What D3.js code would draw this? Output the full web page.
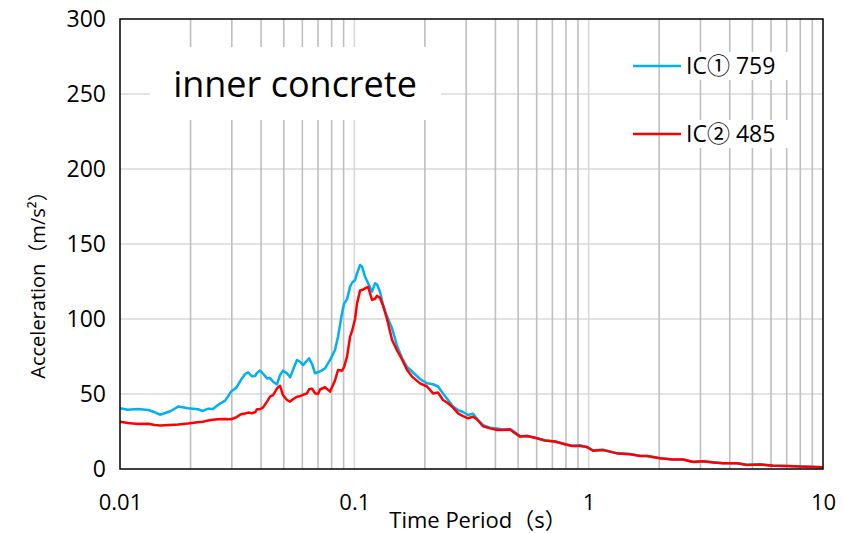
<!DOCTYPE html>
<html><head><meta charset="utf-8">
<script src="https://cdn.jsdelivr.net/npm/d3@7"></script>
<style>
body{margin:0;background:#fff}
svg{display:block}
text{font-family:"Open Sans","Noto Sans CJK SC",sans-serif;fill:#000}
</style>
</head><body>
<svg id="chart" width="844" height="533"></svg>
<script>
// ---- data ----
const periods = [0.01,0.0108,0.0119,0.0132,0.0141,0.0148,0.0164,0.0177,0.0195,0.0215,0.0226,0.0238,0.0249,0.0262,0.0281,0.0298,0.0313,0.0328,0.0342,0.0352,0.0366,0.0377,0.0384,0.0396,0.0408,0.0424,0.0437,0.0450,0.0468,0.0482,0.0496,0.0516,0.0532,0.0547,0.0569,0.0586,0.0604,0.0628,0.0641,0.0660,0.0680,0.0700,0.0714,0.0750,0.0788,0.0827,0.0852,0.0886,0.0904,0.0931,0.0959,0.0978,0.1007,0.1027,0.1058,0.1079,0.1111,0.1144,0.1190,0.1226,0.1250,0.1287,0.1326,0.1379,0.1449,0.1522,0.1598,0.1679,0.1763,0.1907,0.2043,0.2167,0.2276,0.2391,0.2512,0.2638,0.2771,0.2911,0.3057,0.3211,0.3340,0.3543,0.3794,0.4065,0.4312,0.4618,0.4851,0.5095,0.5458,0.5905,0.6515,0.7188,0.7931,0.8495,0.9189,0.9844,1.044,1.152,1.322,1.502,1.657,1.775,2.017,2.292,2.529,2.790,3.078,3.396,3.747,4.300,4.744,5.389,6.123,7.027,7.983,9.071,10.0];
const ic1 = [40.5,39.5,40.0,39.3,37.8,36.2,38.5,41.6,40.5,39.8,38.7,40.2,40.0,42.7,45.6,51.6,54.0,59.3,63.3,64.5,61.8,62.0,64.0,65.6,63.5,60.4,60.6,58.2,56.4,62.7,65.6,63.8,61.1,66.0,72.7,71.5,69.3,72.2,73.8,70.0,63.8,64.5,65.0,67.1,72.7,79.3,88.2,103.8,110.4,113.1,121.6,124.2,126.0,130.4,136.0,134.9,128.2,124.0,118.2,123.8,123.0,118.2,109.3,101.6,93.8,82.0,74.0,68.0,65.0,60.0,57.1,56.5,55.0,50.4,46.0,41.6,39.3,38.0,36.0,36.8,33.5,29.3,27.5,27.0,26.4,26.6,24.5,21.8,22.0,20.8,19.0,18.3,16.5,15.5,15.8,14.6,12.5,12.8,10.6,10.0,8.9,8.7,7.2,6.4,6.3,4.8,5.2,4.5,3.9,3.8,2.8,3.1,2.3,2.0,1.7,1.5,1.2];
const ic2 = [31.5,30.6,30.0,30.1,29.3,29.0,29.3,29.6,30.3,31.2,31.5,32.4,32.8,33.2,33.4,33.2,34.4,36.5,37.0,37.6,37.2,37.8,39.8,39.8,41.1,44.9,48.2,49.3,53.8,55.5,49.3,46.0,44.9,46.5,48.2,48.5,49.5,50.4,53.1,53.5,50.5,50.0,53.0,54.5,51.6,59.0,66.0,65.5,68.0,74.9,88.2,92.0,100.0,110.4,119.0,119.3,120.4,121.5,112.7,113.5,115.5,114.0,109.0,100.0,86.0,79.0,73.0,66.0,61.6,57.1,55.0,50.4,51.0,46.0,43.8,40.9,37.1,35.3,33.8,34.8,33.0,28.5,27.1,26.0,26.0,26.3,23.8,21.6,22.0,20.8,19.0,18.3,16.5,15.3,15.3,14.6,12.2,12.6,10.4,9.8,8.7,8.7,7.1,6.3,6.3,4.7,5.1,4.4,3.8,3.8,2.7,3.0,2.2,2.0,1.6,1.4,1.1];
const seriesNames = ["IC\u2460 759", "IC\u2461 485"];
const seriesColors = ["#00B0F0", "#FF0000"];
const yTicks = [0, 50, 100, 150, 200, 250, 300];
const xTickLabels = [0.01, 0.1, 1, 10];
const titleText = "inner concrete";
const xTitle = "Time Period\uFF08s\uFF09";
const yTitle = "Acceleration\uFF08m/s\u00B2\uFF09";

// ---- layout ----
const W = 844, H = 533;
const m = {left: 120, right: 21, top: 19, bottom: 64};
const iw = W - m.left - m.right, ih = H - m.top - m.bottom;

const svg = d3.select("#chart");
const g = svg.append("g").attr("transform", `translate(${m.left},${m.top})`);

const x = d3.scaleLog().domain([0.01, 10]).range([0, iw]);
const y = d3.scaleLinear().domain([0, 300]).range([ih, 0]);

// horizontal grid
g.append("g").selectAll("line").data(yTicks.filter(d => d > 0 && d < 300)).join("line")
  .attr("x1", 0).attr("x2", iw).attr("y1", d => y(d)).attr("y2", d => y(d))
  .attr("stroke", "#d9d9d9").attr("stroke-width", 1.5);

// vertical grid (log)
const isMajor = d => Math.abs(Math.log10(d) - Math.round(Math.log10(d))) < 1e-9;
g.append("g").selectAll("line").data(x.ticks().filter(d => d > 0.01 && d < 10)).join("line")
  .attr("x1", d => x(d)).attr("x2", d => x(d)).attr("y1", 0).attr("y2", ih)
  .attr("stroke", d => isMajor(d) ? "#d9d9d9" : "#bfbfbf").attr("stroke-width", 1.6);

// title box (white background covering grid)
g.append("rect").attr("x", 150 - m.left).attr("y", 47 - m.top).attr("width", 291).attr("height", 73).attr("fill", "#fff");
g.append("text").attr("x", 295 - m.left).attr("y", 97 - m.top).attr("text-anchor", "middle")
  .style("font-size", "36px").text(titleText);

// series lines
const data = [ic1, ic2];
const line = d3.line().x(d => x(d[0])).y(d => y(d[1]));
data.forEach((vals, i) => {
  g.append("path").datum(periods.map((p, k) => [p, vals[k]]))
    .attr("fill", "none").attr("stroke", seriesColors[i]).attr("stroke-width", 2.5)
    .attr("stroke-linejoin", "round").attr("d", line);
});

// frame
g.append("rect").attr("x", 0).attr("y", 0).attr("width", iw).attr("height", ih)
  .attr("fill", "none").attr("stroke", "#000").attr("stroke-width", 1.5);

// legend
const leg = svg.append("g");
seriesNames.forEach((name, i) => {
  const cy = 66 + i * 68;
  leg.append("rect").attr("x", 684).attr("y", cy - 14).attr("width", 110).attr("height", 28).attr("fill", "#fff");
  leg.append("line").attr("x1", 633).attr("x2", 681).attr("y1", cy).attr("y2", cy)
    .attr("stroke", seriesColors[i]).attr("stroke-width", 2.5);
  leg.append("text").attr("x", 686).attr("y", cy).attr("dy", "0.35em")
    .style("font-size", "23px").text(name);
});

// axes labels
const yAxis = d3.axisLeft(y).tickValues(yTicks).tickSize(0).tickPadding(0);
const ya = svg.append("g").attr("transform", `translate(${m.left - 14},${m.top})`).call(yAxis);
ya.select(".domain").remove();
ya.selectAll("text").style("font-size", "23px").style("font-family", "'Open Sans','Noto Sans CJK SC',sans-serif").attr("fill", "#000");

const xAxis = d3.axisBottom(x).tickValues(xTickLabels).tickFormat(d3.format("~g")).tickSize(0).tickPadding(0);
const xa = svg.append("g").attr("transform", `translate(${m.left},${m.top + ih + 25})`).call(xAxis);
xa.select(".domain").remove();
xa.selectAll("text").style("font-size", "22px").style("font-family", "'Open Sans','Noto Sans CJK SC',sans-serif").attr("fill", "#000");

svg.append("text").attr("x", 478).attr("y", 520).attr("dy", "0.35em").attr("text-anchor", "middle")
  .style("font-size", "22px").text(xTitle);
svg.append("text").attr("transform", "translate(38,280) rotate(-90)").attr("dy", "0.35em")
  .attr("text-anchor", "middle").style("font-size", "20px").text(yTitle);
</script>
</body></html>
